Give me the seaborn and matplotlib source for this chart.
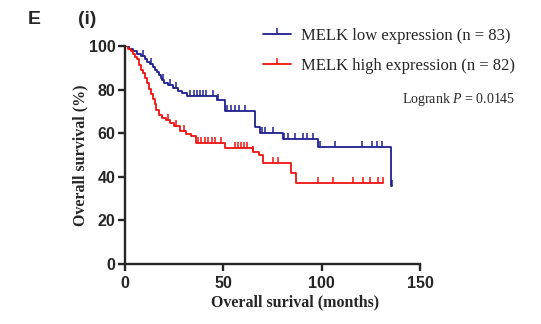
import matplotlib
matplotlib.use("Agg")
import matplotlib.pyplot as plt
from matplotlib.lines import Line2D
from matplotlib.path import Path
import numpy as np
import pandas as pd
import seaborn as sns

# Kaplan-Meier steps (months, % surviving)
low_t = [0, 2, 4, 6, 8, 10, 11, 12.5, 14, 15, 16.5, 17.5, 18.5, 19, 20, 22, 24.5, 27, 29, 31.5,
         47, 51, 66, 68.5, 80.5, 98, 135]
low_s = [100, 98.8, 97.6, 96.4, 95.2, 94.0, 92.8, 91.6, 90.4, 89.2, 87.9, 86.7, 85.5, 84.3, 83.1,
         81.9, 80.7, 79.5, 78.3, 76.9, 75.2, 70.3, 63.0, 60.0, 57.2, 53.7, 36.0]
low_cens = [1, 9, 13, 19.5, 23, 26, 33, 35, 36.5, 38, 39.5, 41, 44.5, 47.5, 52, 54, 56, 58, 61,
            69.5, 71, 75, 81, 83, 86.5, 90.5, 92.5, 95.6, 99, 107, 120.5, 125.6, 128, 130.5, 136]

high_t = [0, 1.5, 3, 4, 5, 6, 7, 8, 9, 10, 11, 12, 13, 14, 15, 16, 17.5, 19, 21, 23, 25, 28, 31,
          33.5, 36, 51, 65, 68, 70, 84.5, 87]
high_s = [100, 98.8, 97.6, 96.3, 95.1, 93.9, 91.5, 89.0, 87.8, 85.4, 82.9, 80.5, 78.0, 75.6, 73.2,
          70.7, 68.3, 67.1, 65.9, 64.6, 63.4, 61.0, 59.8, 58.5, 55.5, 53.1, 51.2, 49.9, 46.5, 41.6, 37.0]
high_cens = [1, 22, 26, 30, 37, 38.5, 40.7, 42, 44, 46, 49, 56, 57.5, 59, 60.5, 62, 65, 75, 78,
             98, 106, 116, 121, 124.5, 128.6, 131]

labels = ["MELK low expression (n = 83)", "MELK high expression (n = 82)"]
colors = ["#1f1f8f", "#ee1111"]


def km_frame(t, s, cens):
    # extend the last step out to the last censored case
    t = list(t) + [max(cens)]
    s = list(s) + [s[-1]]
    steps = pd.DataFrame({"time": t, "surv": s})
    idx = np.searchsorted(np.array(t), np.array(cens), side="right") - 1
    ticks = pd.DataFrame({"time": cens, "surv": np.array(s)[idx]})
    return steps, ticks


sns.set_style("ticks")
plt.rcParams["mathtext.fontset"] = "custom"
plt.rcParams["mathtext.rm"] = "Liberation Serif"
plt.rcParams["mathtext.it"] = "Liberation Serif:italic"

tick_up = Path([(0, 0), (0, 1)], [Path.MOVETO, Path.LINETO])

fig = plt.figure(figsize=(5.41, 3.24), dpi=100)
ax = fig.add_axes([125 / 541, 60 / 324, 295 / 541, 218 / 324])

for (t, s, c), col in zip([(low_t, low_s, low_cens), (high_t, high_s, high_cens)], colors):
    steps, ticks = km_frame(t, s, c)
    sns.lineplot(data=steps, x="time", y="surv", ax=ax, color=col, lw=1.3,
                 drawstyle="steps-post", sort=False, estimator=None)
    sns.scatterplot(data=ticks, x="time", y="surv", ax=ax, marker=tick_up, s=70,
                    color=col, edgecolor=col, linewidth=1.1, zorder=3)

ax.set_xlim(0, 150)
ax.set_ylim(0, 100)
ax.set_xticks([0, 50, 100, 150])
ax.set_yticks([0, 20, 40, 60, 80, 100])
ax.spines[["top", "right"]].set_visible(False)
for sp in ["left", "bottom"]:
    ax.spines[sp].set_linewidth(1.7)
    ax.spines[sp].set_clip_on(False)
ax.tick_params(direction="out", length=5, width=1.7)
ax.tick_params(axis="x", pad=4)
ax.tick_params(axis="y", pad=2)
for lab in ax.get_xticklabels() + ax.get_yticklabels():
    lab.set_fontfamily("Liberation Sans")
    lab.set_fontweight("bold")
    lab.set_fontsize(11.5)

ax.set_xlabel("Overall surival (months)", fontfamily="Liberation Serif", fontweight="bold", fontsize=11.5)
ax.set_ylabel("Overall survival (%)", fontfamily="Liberation Serif", fontweight="bold", fontsize=11.5)
ax.xaxis.set_label_coords(0.576, -0.14)
ax.yaxis.set_label_coords(-0.125, 0.5)

handles = [Line2D([], [], color=col, lw=1.3, marker=tick_up, markersize=9, markeredgewidth=1.1)
           for col in colors]
fig.legend(handles, labels, loc="upper left", bbox_to_anchor=(263 / 541, 1 - 28 / 324),
           frameon=False, borderpad=0, borderaxespad=0, handlelength=1.7, handletextpad=0.6,
           labelspacing=0.85, numpoints=1, prop={"family": "Liberation Serif", "size": 12})

fig.text(515 / 541, 1 - 100 / 324, r"Logrank $\mathit{P}$ = 0.0145", ha="right", va="center",
         fontfamily="Liberation Serif", fontsize=10)
fig.text(28 / 541, 1 - 19 / 324, "E", ha="left", va="center", fontfamily="Liberation Sans",
         fontweight="bold", fontsize=14)
fig.text(78 / 541, 1 - 19 / 324, "(i)", ha="left", va="center", fontfamily="Liberation Sans",
         fontweight="bold", fontsize=14)

fig.savefig("out.png", dpi=100)
